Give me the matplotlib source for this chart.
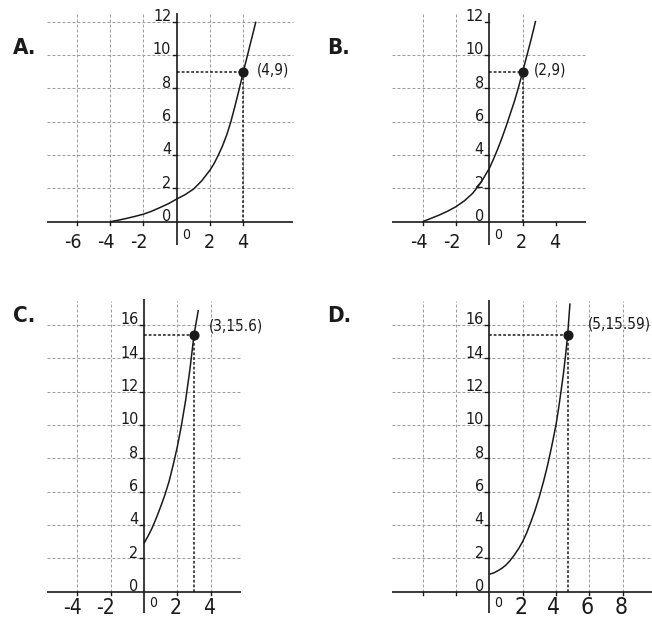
import os
import matplotlib
matplotlib.use("Agg")
import matplotlib.pyplot as plt
from matplotlib import font_manager
from matplotlib.font_manager import FontProperties

# ---------------- data ----------------
A_curve_x = [-4, -3.5, -3, -2.5, -2, -1.5, -1, -0.5, 0, 0.5, 1, 1.5, 2, 2.25, 2.5, 2.75, 3, 3.25, 3.5, 3.75, 4, 4.25, 4.5, 4.75]
A_curve_y = [0, 0.09, 0.2, 0.32, 0.45, 0.63, 0.85, 1.08, 1.36, 1.62, 1.95, 2.45, 3.1, 3.5, 4.0, 4.55, 5.2, 6.0, 6.95, 7.95, 9.0, 10.0, 11.0, 12.0]
A_point = (4, 9)
A_point_label = "(4,9)"
A_xticks = [-6, -4, -2, 2, 4]
A_xticklabels = ["-6", "-4", "-2", "2", "4"]
A_yticks = [0, 2, 4, 6, 8, 10, 12]
A_vgrid = [-6, -4, -2, 2, 4]
A_hgrid = [2, 4, 6, 8, 10, 12]

B_curve_x = [-4, -3.5, -3, -2.5, -2, -1.5, -1, -0.5, 0, 0.25, 0.5, 0.75, 1, 1.25, 1.5, 1.75, 2, 2.25, 2.5, 2.78]
B_curve_y = [0, 0.2, 0.4, 0.63, 0.9, 1.25, 1.7, 2.35, 3.2, 3.75, 4.35, 5.0, 5.7, 6.45, 7.2, 8.05, 9.0, 9.95, 10.9, 12.05]
B_point = (2, 9)
B_point_label = "(2,9)"
B_xticks = [-4, -2, 2, 4]
B_xticklabels = ["-4", "-2", "2", "4"]
B_yticks = [0, 2, 4, 6, 8, 10, 12]
B_vgrid = [-4, -2, 2]
B_hgrid = [2, 4, 6, 8, 10]

C_curve_x = [0, 0.25, 0.5, 0.75, 1.0, 1.25, 1.5, 1.75, 2.0, 2.25, 2.5, 2.75, 3.0, 3.26]
C_curve_y = [2.9, 3.35, 3.85, 4.45, 5.1, 5.8, 6.6, 7.6, 8.7, 10.0, 11.5, 13.3, 15.4, 16.9]
C_point = (3, 15.4)
C_point_label = "(3,15.6)"
C_xticks = [-4, -2, 2, 4]
C_xticklabels = ["-4", "-2", "2", "4"]
C_yticks = [0, 2, 4, 6, 8, 10, 12, 14, 16]
C_vgrid = [-4, -2, 2, 4]
C_hgrid = [2, 4, 6, 8, 10, 12, 14, 16]

D_curve_x = [0, 0.25, 0.5, 0.75, 1.0, 1.25, 1.5, 1.75, 2.0, 2.25, 2.5, 2.75, 3.0, 3.25, 3.5, 3.75, 4.0, 4.15, 4.3, 4.45, 4.6, 4.7, 4.84]
D_curve_y = [1.05, 1.12, 1.25, 1.4, 1.6, 1.87, 2.2, 2.57, 3.0, 3.55, 4.2, 4.9, 5.7, 6.6, 7.6, 8.75, 10.0, 10.95, 12.0, 13.1, 14.4, 15.4, 17.3]
D_point = (4.7, 15.4)
D_point_label = "(5,15.59)"
D_xticks = [-4, -2, 2, 4, 6, 8]
D_xticklabels = ["", "", "2", "4", "6", "8"]
D_yticks = [0, 2, 4, 6, 8, 10, 12, 14, 16]
D_vgrid = [-4, -2, 2, 4, 6, 8]
D_hgrid = [2, 4, 6, 8, 10, 12, 14, 16]

panel_letters = ["A.", "B.", "C.", "D."]

# ---------------- fonts ----------------
files = font_manager.findSystemFonts() + [f.fname for f in font_manager.fontManager.ttflist]
base = {os.path.basename(p).lower(): p for p in files}


def pick(cands):
    for c in cands:
        for k, p in base.items():
            if k.startswith(c):
                return p
    return None


REG = pick(["liberationsansnarrow-regular", "liberationsansnarrow.", "dejavusanscondensed.",
            "robotocondensed-regular", "opensans_condensed-regular", "opensans-condensed",
            "roboto-regular"])
BOLD = pick(["liberationsansnarrow-bold.", "dejavusanscondensed-bold.", "robotocondensed-bold",
             "opensans_condensed-bold", "roboto-bold", "roboto-black"])


def fp(size, bold=False):
    path = BOLD if bold else REG
    if path:
        return FontProperties(fname=path, size=size)
    return FontProperties(family="DejaVu Sans", size=size, weight="bold" if bold else "normal")


W, H, DPI = 652, 620, 100
U = 16.667  # pixels per data unit
fig = plt.figure(figsize=(W / DPI, H / DPI), dpi=DPI)
fig.patch.set_facecolor("white")

GRID_C = "#9c9c9c"
INK = "#1a1a1a"


def make_ax(ox, oy, x0, x1, y0, y1):
    left = ox + x0 * U
    right = ox + x1 * U
    top = oy - y1 * U
    bottom = oy - y0 * U
    ax = fig.add_axes([left / W, 1 - bottom / H, (right - left) / W, (bottom - top) / H])
    ax.set_xlim(x0, x1)
    ax.set_ylim(y0, y1)
    ax.axis("off")
    ax.patch.set_alpha(0)
    return ax


def panel(ax, cx, cy, point, plabel, plabel_xy, xticks, xtl, yticks, vgrid, hgrid,
          xext, ytop, ybot, vtop, xfs, xlab_base, ofs):
    kw = dict(clip_on=False)
    for g in hgrid:
        ax.plot(xext, [g, g], color=GRID_C, lw=0.75, dashes=(2.8, 2.0), zorder=1, **kw)
    for g in vgrid:
        ax.plot([g, g], [0, vtop], color=GRID_C, lw=0.75, dashes=(2.8, 2.0), zorder=1, **kw)
    ax.plot(xext, [0, 0], color=INK, lw=1.2, zorder=3, solid_capstyle="butt", **kw)
    ax.plot([0, 0], [ybot, ytop], color=INK, lw=1.2, zorder=3, solid_capstyle="butt", **kw)
    for t in xticks:
        ax.plot([t, t], [-0.22, 0], color=INK, lw=1.0, zorder=3, **kw)
    for t in yticks[1:]:
        ax.plot([-0.25, 0], [t, t], color=INK, lw=1.0, zorder=3, **kw)
    for t, s in zip(xticks, xtl):
        if s:
            ax.text(t + 0.27, xlab_base, s, ha="right", va="baseline", fontproperties=fp(xfs),
                    color=INK, zorder=4, **kw)
    for t in yticks:
        ax.text(-0.33, t + 0.05, str(t), ha="right", va="baseline", fontproperties=fp(11.5),
                color=INK, zorder=4, **kw)
    ax.text(0.55, ofs, "0", ha="center", va="center", fontproperties=fp(10), color=INK,
            zorder=4, **kw)
    px, py = point
    ax.plot([0, px], [py, py], color=INK, lw=1.1, dashes=(1.8, 1.3), zorder=2, **kw)
    ax.plot([px, px], [0, py], color=INK, lw=1.1, dashes=(1.8, 1.3), zorder=2, **kw)
    ax.plot(cx, cy, color=INK, lw=1.1, zorder=5, solid_capstyle="butt",
            solid_joinstyle="round", **kw)
    ax.plot([px], [py], "o", color=INK, ms=6.3, zorder=6, **kw)
    ax.text(plabel_xy[0], plabel_xy[1], plabel, ha="left", va="center", fontproperties=fp(11),
            color=INK, zorder=6, **kw)


axA = make_ax(176.7, 221.7, -8.2, 7.3, -2.0, 12.9)
panel(axA, A_curve_x, A_curve_y, A_point, A_point_label, (4.8, 9.1), A_xticks, A_xticklabels,
      A_yticks, A_vgrid, A_hgrid, [-7.8, 6.96], 12.5, -1.4, 12.5, 14, -1.6, -0.82)

axB = make_ax(489.3, 221.7, -6.0, 6.1, -2.0, 12.9)
panel(axB, B_curve_x, B_curve_y, B_point, B_point_label, (2.7, 9.1), B_xticks, B_xticklabels,
      B_yticks, B_vgrid, B_hgrid, [-5.86, 5.8], 12.5, -1.4, 12.5, 14, -1.6, -0.82)

axC = make_ax(144.0, 591.7, -6.0, 6.1, -1.8, 17.9)
panel(axC, C_curve_x, C_curve_y, C_point, C_point_label, (3.92, 15.95), C_xticks, C_xticklabels,
      C_yticks, C_vgrid, C_hgrid, [-5.84, 5.8], 17.55, -1.3, 17.46, 15, -1.35, -0.68)

axD = make_ax(489.3, 591.7, -6.0, 9.8, -1.8, 17.9)
panel(axD, D_curve_x, D_curve_y, D_point, D_point_label, (5.9, 16.05), D_xticks, D_xticklabels,
      D_yticks, D_vgrid, D_hgrid, [-5.86, 9.8], 17.5, -1.3, 17.46, 16.5, -1.35, -0.68)

letter_pos = [(13, 54), (327.5, 54), (13, 322), (327.5, 322)]
for (lx, ly), s in zip(letter_pos, panel_letters):
    fig.text(lx / W, 1 - ly / H, s, ha="left", va="baseline", fontproperties=fp(16, bold=True),
             color=INK)

fig.savefig("out.png", dpi=DPI, facecolor="white")
